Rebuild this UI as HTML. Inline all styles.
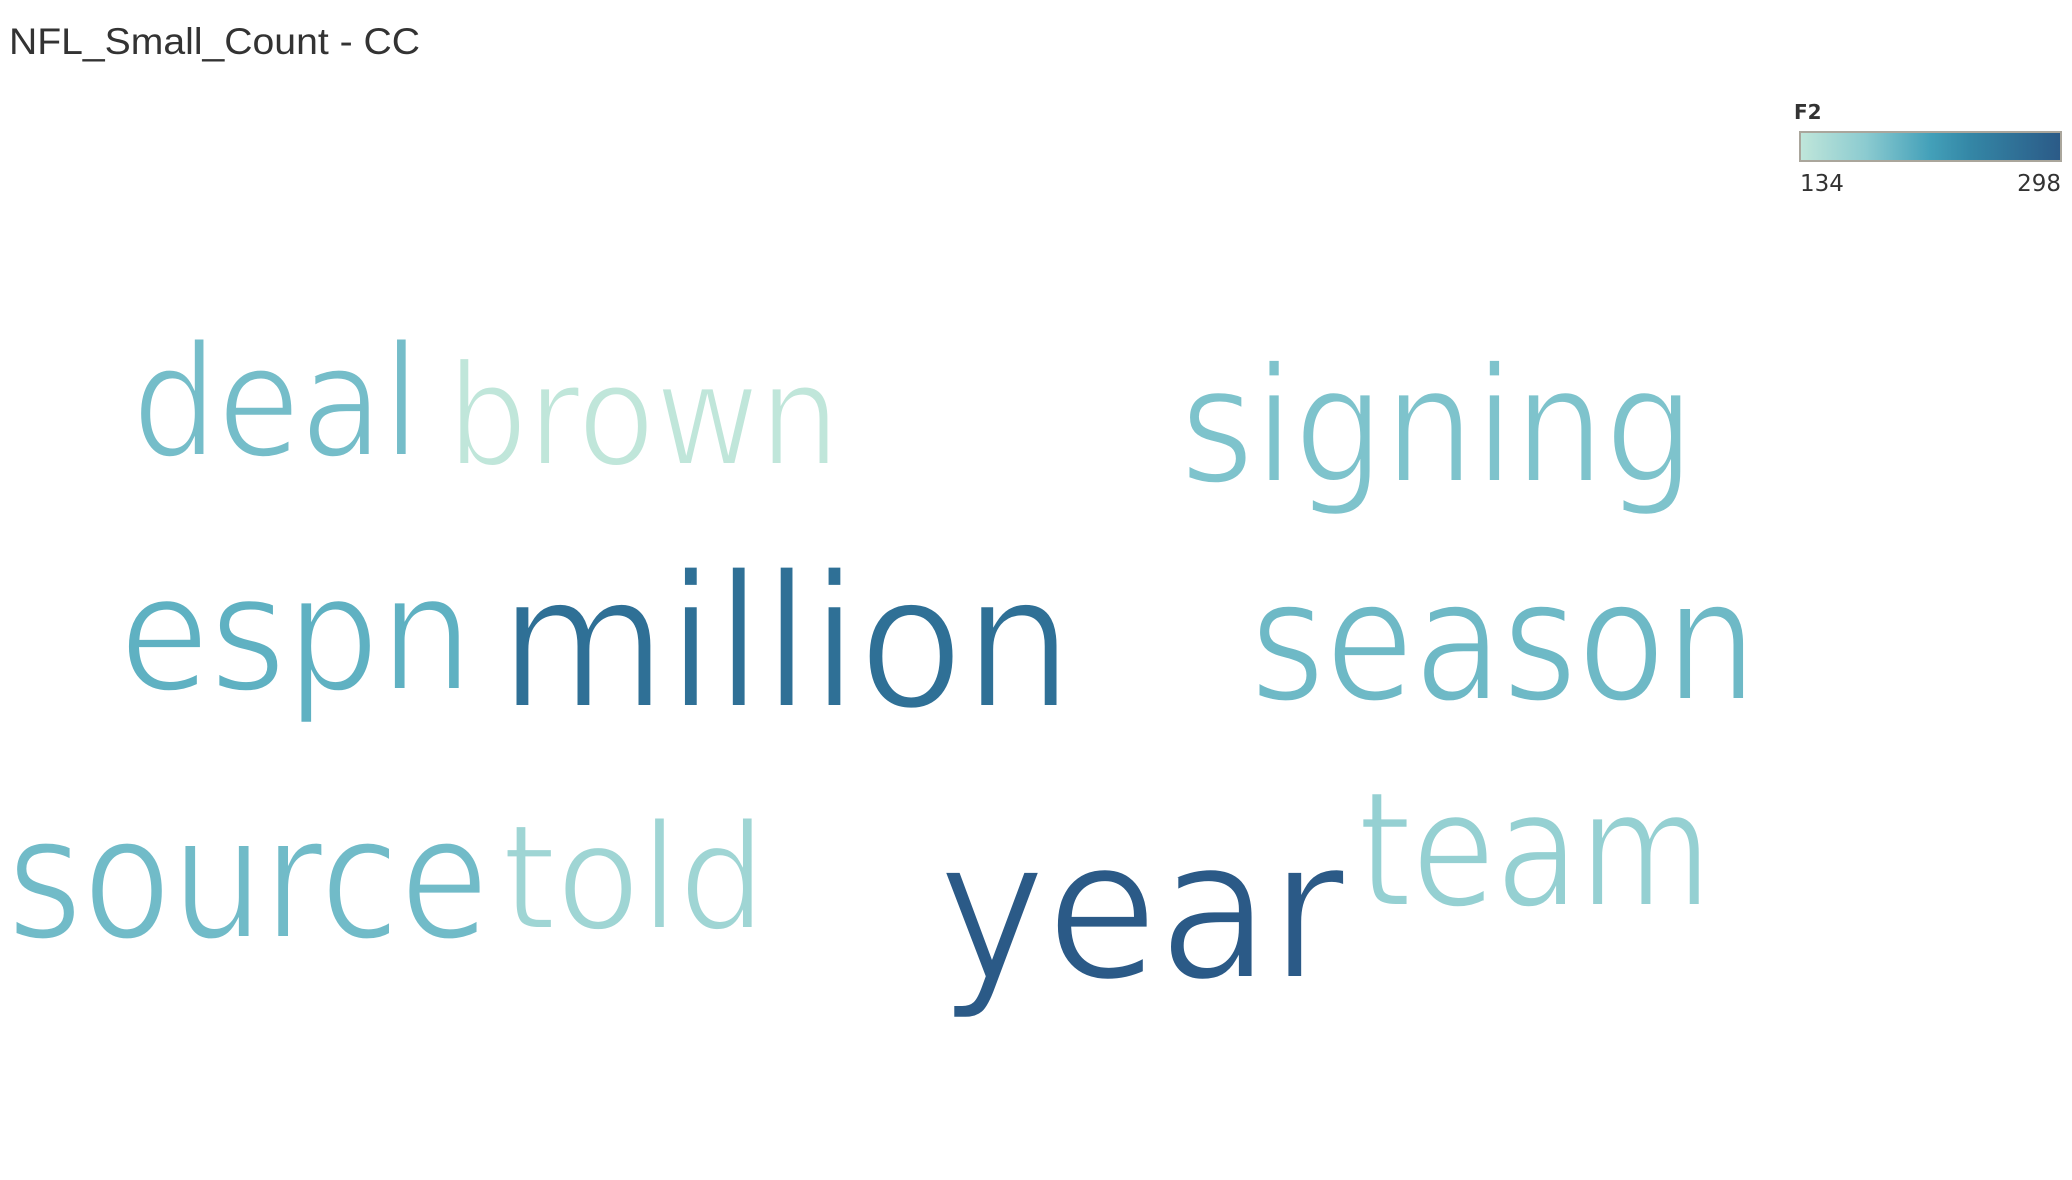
<!DOCTYPE html>
<html><head><meta charset="utf-8"><style>
html,body{margin:0;padding:0;background:#fff;width:2072px;height:1180px;overflow:hidden}
svg{display:block}
</style></head><body>
<svg id="chart" width="2072" height="1180" viewBox="0 0 2072 1180" xmlns="http://www.w3.org/2000/svg">
<defs><linearGradient id="grad" x1="0" x2="1" y1="0" y2="0">
<stop offset="0" stop-color="#c0e6da"/><stop offset="0.25" stop-color="#8ccbd0"/><stop offset="0.5" stop-color="#43a0b9"/><stop offset="0.65" stop-color="#3487a6"/><stop offset="1" stop-color="#2b5a87"/>
</linearGradient></defs>
<text x="9" y="54" font-family="Liberation Sans, sans-serif" font-size="37" fill="#333" textLength="411" lengthAdjust="spacingAndGlyphs">NFL_Small_Count - CC</text>
<g>
<text x="1794" y="119" font-family="DejaVu Sans, sans-serif" font-weight="bold" font-size="20" fill="#333">F2</text>
<rect x="1800" y="132" width="261" height="29" fill="url(#grad)" stroke="#aaa69c" stroke-width="2"/>
<text id="legMin" x="1800" y="191" font-family="DejaVu Sans, sans-serif" font-size="23" fill="#333"></text>
<text id="legMax" x="2061" y="191" text-anchor="end" font-family="DejaVu Sans, sans-serif" font-size="23" fill="#333"></text>
</g>
<g id="words"></g>
</svg>
<script>
const words = ["deal","brown","signing","espn","million","season","source","told","year","team"];
const f2Values = [188,134,183,200,270,192,190,160,298,168];
const colorMin = 134, colorMax = 298;
// layout (word cloud placement): left, right, baseline, font size
const layout = [
 [132,420,456,156],[447,840,465,142],[1180,1695,482,162],[119,473,690,162],
 [499,1073,707,186],[1250,1757,700,170],[7,489,938,172],[502,766,929,148],
 [938,1345,978,196],[1358,1712,906,162]
];
const stops = [[0,[192,230,218]],[0.25,[140,203,208]],[0.5,[67,160,185]],[0.65,[52,135,166]],[1,[43,90,135]]];
function colorScale(v){
  let t = Math.max(0, Math.min(1, (v - colorMin) / (colorMax - colorMin)));
  for (let i = 1; i < stops.length; i++) {
    if (t <= stops[i][0]) {
      const a = stops[i-1], b = stops[i], u = (t - a[0]) / (b[0] - a[0]);
      const c = a[1].map((x, k) => Math.round(x + (b[1][k] - x) * u));
      return `rgb(${c.join(',')})`;
    }
  }
  return 'rgb(43,90,135)';
}
document.getElementById('legMin').textContent = colorMin;
document.getElementById('legMax').textContent = colorMax;
const g = document.getElementById('words');
const NS = 'http://www.w3.org/2000/svg';
words.forEach((w, i) => {
  const L = layout[i];
  const t = document.createElementNS(NS, 'text');
  
  
  t.setAttribute('x', L[0]);
  t.setAttribute('y', L[2]);
  t.setAttribute('font-size', L[3]);
  t.setAttribute('font-family', 'DejaVu Sans, sans-serif');
  t.setAttribute('textLength', L[1] - L[0]);
  t.setAttribute('lengthAdjust', 'spacingAndGlyphs');
  t.setAttribute('fill', colorScale(f2Values[i]));
  t.setAttribute('stroke', '#fff');
  t.setAttribute('stroke-width', '4');
  t.setAttribute('paint-order', 'normal');
  t.textContent = w;
  g.appendChild(t);
});
</script>
</body></html>
